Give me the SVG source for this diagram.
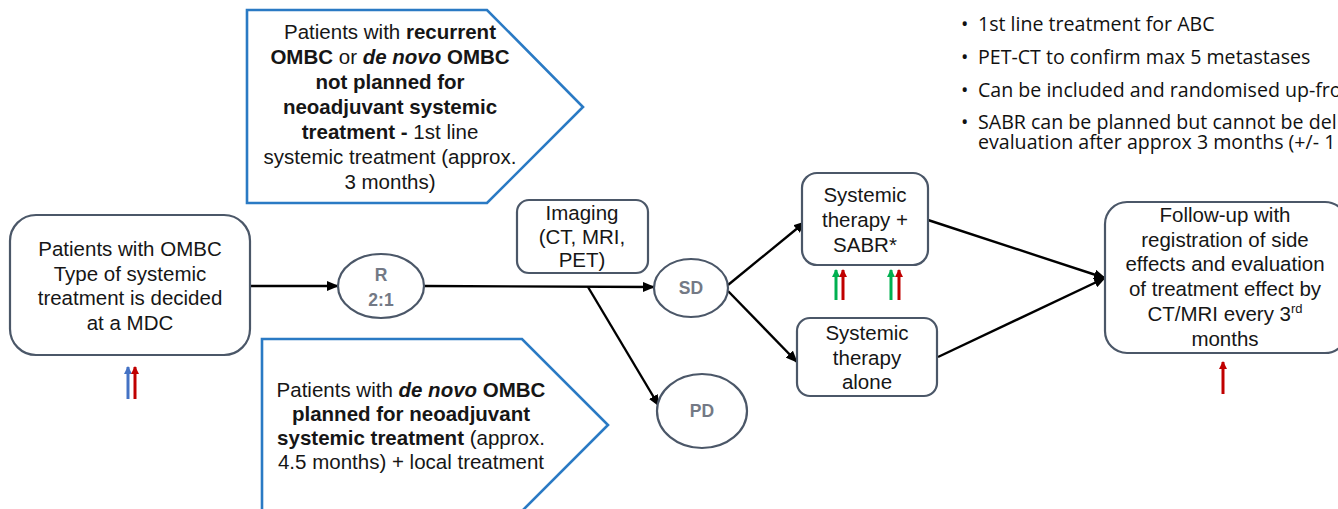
<svg xmlns="http://www.w3.org/2000/svg" width="1338" height="509" viewBox="0 0 1338 509">
  <style>
    .bg { fill: #ffffff; }
    .box { fill: #ffffff; stroke: #4b5768; stroke-width: 2.2; }
    .oval { fill: #ffffff; stroke: #4b5768; stroke-width: 2.2; }
    .penta { fill: #ffffff; stroke: #2a7ac4; stroke-width: 2.6; stroke-linejoin: miter; }
    .t { font-family: "Liberation Sans", Arial, sans-serif; font-size: 20.5px; fill: #161616; text-anchor: middle; }
    .b { font-weight: bold; }
    .bi { font-weight: bold; font-style: italic; }
    .ot { font-family: "Liberation Sans", Arial, sans-serif; font-size: 17.5px; font-weight: bold; fill: #737985; text-anchor: middle; }
    .note { font-family: "Open Sans", "Noto Sans", sans-serif; font-size: 19.6px; fill: #111111; }
    .conn { stroke: #000000; stroke-width: 2.4; fill: none; marker-end: url(#ah); }
    .up-blue { stroke: #4472c4; stroke-width: 3; marker-end: url(#hb); }
    .up-red { stroke: #c00000; stroke-width: 3; marker-end: url(#hr); }
    .up-green { stroke: #00b050; stroke-width: 3; marker-end: url(#hg); }
  </style>
  <defs>
    <marker id="ah" viewBox="0 0 12 10" refX="11" refY="5" markerWidth="12" markerHeight="10" markerUnits="userSpaceOnUse" orient="auto">
      <path d="M0,0 L12,5 L0,10 Z" fill="#000000"/>
    </marker>
    <marker id="hb" viewBox="0 0 8 8" refX="7" refY="4" markerWidth="8" markerHeight="8" markerUnits="userSpaceOnUse" orient="auto">
      <path d="M0,0 L8,4 L0,8 Z" fill="#4472c4"/>
    </marker>
    <marker id="hr" viewBox="0 0 8 8" refX="7" refY="4" markerWidth="8" markerHeight="8" markerUnits="userSpaceOnUse" orient="auto">
      <path d="M0,0 L8,4 L0,8 Z" fill="#c00000"/>
    </marker>
    <marker id="hg" viewBox="0 0 8 8" refX="7" refY="4" markerWidth="8" markerHeight="8" markerUnits="userSpaceOnUse" orient="auto">
      <path d="M0,0 L8,4 L0,8 Z" fill="#00b050"/>
    </marker>
  </defs>

  <rect class="bg" x="0" y="0" width="1338" height="509"/>

  <!-- flow connectors -->
  <g id="connectors">
    <line class="conn" x1="251" y1="286" x2="338" y2="286"/>
    <line class="conn" x1="425" y1="286" x2="654" y2="287"/>
    <line class="conn" x1="588" y1="287" x2="659" y2="406"/>
    <line class="conn" x1="728" y1="285" x2="805" y2="222"/>
    <line class="conn" x1="728" y1="291" x2="797" y2="362"/>
    <line class="conn" x1="928" y1="220" x2="1105" y2="278"/>
    <line class="conn" x1="938" y1="357" x2="1105" y2="278"/>
  </g>

  <!-- entry: patients discussed at MDC -->
  <g id="node-mdc">
    <rect class="box" x="10" y="215" width="240" height="140" rx="26"/>
    <text class="t" x="130" y="256">Patients with OMBC</text>
    <text class="t" x="130" y="281">Type of systemic</text>
    <text class="t" x="130" y="305">treatment is decided</text>
    <text class="t" x="130" y="330">at a MDC</text>
  </g>

  <!-- recurrent / de novo without neoadjuvant -->
  <g id="node-recurrent">
    <polygon class="penta" points="247,10 487,10 583,107 487,203 247,203"/>
    <text class="t" x="390" y="39">Patients with <tspan class="b">recurrent</tspan></text>
    <text class="t" x="390" y="64"><tspan class="b">OMBC</tspan> or <tspan class="bi">de novo</tspan> <tspan class="b">OMBC</tspan></text>
    <text class="t b" x="390" y="89">not planned for</text>
    <text class="t b" x="390" y="114">neoadjuvant systemic</text>
    <text class="t" x="390" y="139"><tspan class="b">treatment -</tspan> 1st line</text>
    <text class="t" x="390" y="164">systemic treatment (approx.</text>
    <text class="t" x="390" y="189">3 months)</text>
  </g>

  <!-- de novo with neoadjuvant -->
  <g id="node-denovo">
    <polygon class="penta" points="262,339 522,339 608,425 522,511 262,511"/>
    <text class="t" x="411" y="397">Patients with <tspan class="bi">de novo</tspan> <tspan class="b">OMBC</tspan></text>
    <text class="t b" x="411" y="421">planned for neoadjuvant</text>
    <text class="t" x="411" y="445"><tspan class="b">systemic treatment</tspan> (approx.</text>
    <text class="t" x="411" y="469">4.5 months) + local treatment</text>
  </g>

  <!-- randomisation -->
  <g id="node-random">
    <ellipse class="oval" cx="381" cy="286" rx="43" ry="32"/>
    <text class="ot" x="381" y="281">R</text>
    <text class="ot" x="381" y="306">2:1</text>
  </g>

  <!-- imaging -->
  <g id="node-imaging">
    <rect class="box" x="517" y="200" width="131" height="73" rx="12"/>
    <text class="t" x="582" y="220">Imaging</text>
    <text class="t" x="582" y="244">(CT, MRI,</text>
    <text class="t" x="582" y="267">PET)</text>
  </g>

  <!-- stable disease -->
  <g id="node-sd">
    <ellipse class="oval" cx="691" cy="288" rx="37" ry="29"/>
    <text class="ot" x="691" y="294">SD</text>
  </g>

  <!-- progressive disease -->
  <g id="node-pd">
    <ellipse class="oval" cx="702" cy="411" rx="45" ry="37"/>
    <text class="ot" x="702" y="417">PD</text>
  </g>

  <!-- systemic therapy + SABR -->
  <g id="node-sabr">
    <rect class="box" x="802" y="173" width="126" height="92" rx="15"/>
    <text class="t" x="865" y="202">Systemic</text>
    <text class="t" x="865" y="227">therapy +</text>
    <text class="t" x="865" y="252">SABR*</text>
  </g>

  <!-- systemic therapy alone -->
  <g id="node-alone">
    <rect class="box" x="797" y="318" width="140" height="78" rx="13"/>
    <text class="t" x="867" y="340">Systemic</text>
    <text class="t" x="867" y="365">therapy</text>
    <text class="t" x="867" y="389">alone</text>
  </g>

  <!-- follow-up -->
  <g id="node-followup">
    <rect class="box" x="1105" y="202" width="242" height="151" rx="22"/>
    <text class="t" x="1225" y="222">Follow-up with</text>
    <text class="t" x="1225" y="247">registration of side</text>
    <text class="t" x="1225" y="271">effects and evaluation</text>
    <text class="t" x="1225" y="296">of treatment effect by</text>
    <text class="t" x="1225" y="321">CT/MRI every 3<tspan font-size="13" dy="-8">rd</tspan></text>
    <text class="t" x="1225" y="346">months</text>
  </g>

  <!-- sample markers -->
  <g id="markers">
    <line class="up-blue" x1="128" y1="399" x2="128" y2="367"/>
    <line class="up-red" x1="135" y1="399" x2="135" y2="367"/>
    <line class="up-green" x1="836" y1="300" x2="836" y2="270"/>
    <line class="up-red" x1="843" y1="300" x2="843" y2="270"/>
    <line class="up-green" x1="891" y1="300" x2="891" y2="270"/>
    <line class="up-red" x1="899" y1="300" x2="899" y2="270"/>
    <line class="up-red" x1="1223" y1="394" x2="1223" y2="362"/>
  </g>

  <!-- study notes -->
  <g id="notes">
    <text class="note" x="961" y="31">•</text>
    <text class="note" x="978" y="31">1st line treatment for ABC</text>
    <text class="note" x="961" y="64">•</text>
    <text class="note" x="978" y="64">PET-CT to confirm max 5 metastases</text>
    <text class="note" x="961" y="97">•</text>
    <text class="note" x="978" y="97">Can be included and randomised up-fro</text>
    <text class="note" x="961" y="129">•</text>
    <text class="note" x="978" y="129">SABR can be planned but cannot be del</text>
    <text class="note" x="978" y="149">evaluation after approx 3 months (+/- 1</text>
  </g>
</svg>
